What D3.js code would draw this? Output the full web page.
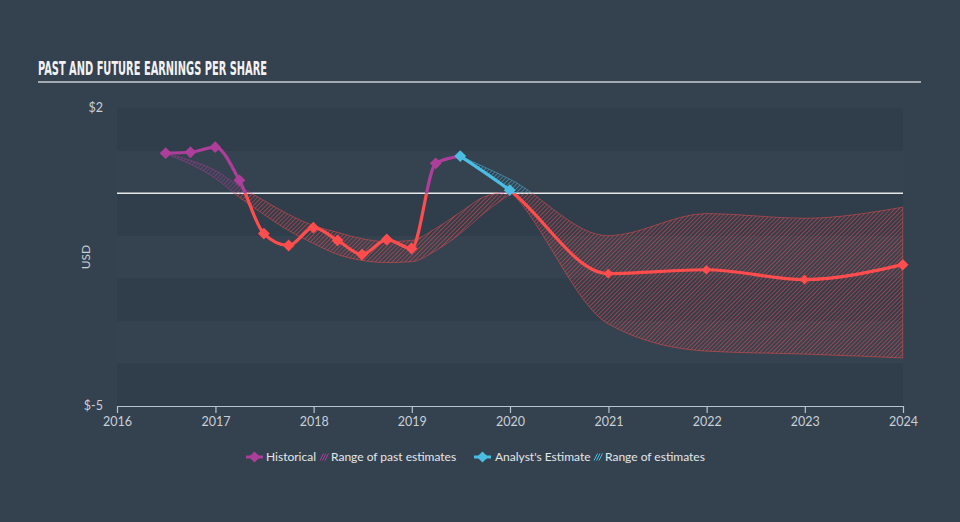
<!DOCTYPE html>
<html>
<head>
<meta charset="utf-8">
<script src="https://cdn.jsdelivr.net/npm/d3@7"></script>
<style>
  html, body { margin: 0; padding: 0; background: #34414f; }
  svg { display: block; }
</style>
</head>
<body>
<svg id="chart" width="960" height="522"></svg>
<script>
// ---------- DATA ----------
const titleText = "PAST AND FUTURE EARNINGS PER SHARE";
const yAxisLabel = "USD";
const yTickValues = [2, -5];
const yTickLabels = ["$2", "$-5"];
const xTickYears = [2016, 2017, 2018, 2019, 2020, 2021, 2022, 2023, 2024];

// Historical EPS (quarterly, trailing)
const histDates = ["2016-06-30","2016-09-30","2016-12-31","2017-03-31","2017-06-30","2017-09-30",
                   "2017-12-31","2018-03-31","2018-06-30","2018-09-30","2018-12-31","2019-03-31","2019-06-30"];
const histValues = [0.94, 0.96, 1.08, 0.30, -0.95, -1.23, -0.81, -1.11, -1.44, -1.09, -1.30, 0.70, 0.87];

// Range of past estimates
const pastRangeDates = ["2016-06-30","2016-09-30","2016-12-31","2017-03-31","2017-06-30","2017-09-30",
                        "2017-12-31","2018-03-31","2018-06-30","2018-09-30","2018-12-31","2019-03-31",
                        "2019-06-30","2019-09-30","2019-12-31"];
const pastRangeLow  = [0.92, 0.68, 0.35, -0.10, -0.50, -0.88, -1.18, -1.44, -1.58, -1.63, -1.61, -1.35, -0.95, -0.45, -0.03];
const pastRangeHigh = [0.94, 0.77, 0.54, 0.16, -0.17, -0.50, -0.76, -0.92, -1.07, -1.14, -1.11, -0.83, -0.45, -0.08, 0.03];

// Analyst estimates
const estDates = ["2019-06-30","2019-12-31","2020-12-31","2021-12-31","2022-12-31","2023-12-31"];
const estValues = [0.87, 0.07, -1.89, -1.80, -2.03, -1.68];
const estLow  = [0.87, 0.05, -3.07, -3.71, -3.78, -3.87];
const estHigh = [0.87, 0.33, -1.00, -0.48, -0.59, -0.33];

const legendLabels = ["Historical", "Range of past estimates", "Analyst's Estimate", "Range of estimates"];

// ---------- SETUP ----------
const COL_PURPLE = "#ad3e99";
const COL_RED = "#ff4d4d";
const COL_BLUE = "#4bbde3";
const parse = d3.utcParse("%Y-%m-%d");

const svg = d3.select("#chart");
const W = 960, H = 522;
const plot = { left: 117, right: 903, top: 108, bottom: 406 };

const x = d3.scaleUtc()
  .domain([new Date(Date.UTC(2016,0,1)), new Date(Date.UTC(2024,0,1))])
  .range([plot.left, plot.right]);
const y = d3.scaleLinear().domain([-5, 2]).range([plot.bottom, plot.top]);

const hist = histDates.map((d,i) => ({date: parse(d), v: histValues[i]}));
const pastRange = pastRangeDates.map((d,i) => ({date: parse(d), lo: pastRangeLow[i], hi: pastRangeHigh[i]}));
const est = estDates.map((d,i) => ({date: parse(d), v: estValues[i]}));
const estRange = estDates.map((d,i) => ({date: parse(d), lo: estLow[i], hi: estHigh[i]}));

// background
svg.append("rect").attr("width", W).attr("height", H).attr("fill", "#34414f");

const defs = svg.append("defs");
function hatch(id, color) {
  const p = defs.append("pattern").attr("id", id)
    .attr("patternUnits", "userSpaceOnUse").attr("width", 3).attr("height", 3)
    .attr("patternTransform", "rotate(45)");
  p.append("line").attr("x1", 0).attr("y1", 0).attr("x2", 0).attr("y2", 3)
    .attr("stroke", color).attr("stroke-width", 1.2).attr("stroke-opacity", 0.85);
}
hatch("hRed", COL_RED);
hatch("hPurple", COL_PURPLE);
hatch("hBlue", COL_BLUE);

const y0 = y(0);
defs.append("clipPath").attr("id", "clipAbove").append("rect")
  .attr("x", 0).attr("y", 0).attr("width", W).attr("height", y0);
defs.append("clipPath").attr("id", "clipBelow").append("rect")
  .attr("x", 0).attr("y", y0).attr("width", W).attr("height", H - y0);

// bands (one per unit)
const bandStarts = d3.range(-5, 2);
svg.append("g").selectAll("rect").data(bandStarts).join("rect")
  .attr("x", plot.left).attr("width", plot.right - plot.left)
  .attr("y", d => y(d + 1)).attr("height", d => y(d) - y(d + 1))
  .attr("fill", d => ((d % 2) + 2) % 2 === 1 ? "#303d4b" : "#35424f");

// Title
svg.append("text").attr("x", 38).attr("y", 75)
  .attr("font-family", "'Liberation Sans Narrow', 'DejaVu Sans Condensed', sans-serif")
  .attr("font-weight", "bold").attr("font-size", 19)
  .attr("fill", "#f2f2f2")
  .attr("textLength", 229).attr("lengthAdjust", "spacingAndGlyphs")
  .text(titleText);
svg.append("line").attr("x1", 38).attr("x2", 921).attr("y1", 82).attr("y2", 82)
  .attr("stroke", "#c8ccd0").attr("stroke-width", 1.6);

// Y labels
svg.append("g").selectAll("text").data(yTickValues).join("text")
  .attr("x", 103).attr("y", d => y(d)).attr("dy", "0.35em")
  .attr("text-anchor", "end").attr("font-family", "Lato, sans-serif").attr("font-size", 12.5)
  .attr("fill", "#c9d0d8")
  .text((d,i) => yTickLabels[i]);
svg.append("text").attr("transform", `translate(90,${(plot.top+plot.bottom)/2}) rotate(-90)`)
  .attr("text-anchor", "middle").attr("font-family", "Lato, sans-serif").attr("font-size", 12)
  .attr("fill", "#c9d0d8").text(yAxisLabel);

// X axis
const xAxis = d3.axisBottom(x)
  .tickValues(xTickYears.map(yr => new Date(Date.UTC(yr,0,1))))
  .tickFormat(d3.utcFormat("%Y")).tickSize(7).tickSizeOuter(0).tickPadding(4);
const gx = svg.append("g").attr("transform", `translate(0,${plot.bottom})`).call(xAxis);
gx.select(".domain").attr("stroke", "#b6c3d1").attr("stroke-width", 1.2);
gx.selectAll(".tick line").attr("stroke", "#b6c3d1").attr("stroke-width", 1.2);
gx.selectAll(".tick text").attr("fill", "#c9d0d8").attr("font-family", "Lato, sans-serif").attr("font-size", 12.5);

// Zero line
svg.append("line").attr("x1", plot.left).attr("x2", plot.right).attr("y1", y0).attr("y2", y0)
  .attr("stroke", "#e6e8ea").attr("stroke-width", 1.5);

// Areas & lines
const area = d3.area().curve(d3.curveMonotoneX)
  .x(d => x(d.date)).y0(d => y(d.lo)).y1(d => y(d.hi));
const line = d3.line().curve(d3.curveMonotoneX).x(d => x(d.date)).y(d => y(d.v));

function drawBand(data, colAbove, patAbove, colBelow, patBelow) {
  [["clipAbove", colAbove, patAbove], ["clipBelow", colBelow, patBelow]].forEach(([clip, col, pat]) => {
    svg.append("path").datum(data).attr("clip-path", `url(#${clip})`)
      .attr("d", area).attr("fill", `url(#${pat})`)
      .attr("stroke", col).attr("stroke-width", 0.8).attr("stroke-opacity", 0.6);
  });
}
drawBand(pastRange, COL_PURPLE, "hPurple", COL_RED, "hRed");
drawBand(estRange, COL_BLUE, "hBlue", COL_RED, "hRed");

function drawLine(data, colAbove, colBelow) {
  [["clipAbove", colAbove], ["clipBelow", colBelow]].forEach(([clip, col]) => {
    svg.append("path").datum(data).attr("clip-path", `url(#${clip})`)
      .attr("d", line).attr("fill", "none").attr("stroke", col).attr("stroke-width", 3.2)
      .attr("stroke-linejoin", "round");
  });
}
drawLine(hist, COL_PURPLE, COL_RED);
drawLine(est, COL_BLUE, COL_RED);

const diamond = d3.symbol().type(d3.symbolDiamond2);
function drawMarkers(data, colAbove, colBelow, size) {
  svg.append("g").selectAll("path").data(data).join("path")
    .attr("transform", d => `translate(${x(d.date)},${y(d.v)})`)
    .attr("d", diamond.size(size))
    .attr("fill", d => d.v >= 0 ? colAbove : colBelow);
}
drawMarkers(hist.slice(0, -1), COL_PURPLE, COL_RED, 90);
drawMarkers(est.slice(0, 2), COL_BLUE, COL_RED, 90);
drawMarkers(est.slice(2, -1), COL_BLUE, COL_RED, 60);
drawMarkers(est.slice(-1), COL_BLUE, COL_RED, 85);

// Legend
const lg = svg.append("g").attr("font-family", "Lato, sans-serif").attr("font-size", 12).attr("fill", "#e4e7ea");
const legendItems = [
  {type: "line", color: COL_PURPLE, x: 246, label: legendLabels[0], tx: 266},
  {type: "hatch", color: COL_PURPLE, x: 320, label: legendLabels[1], tx: 331},
  {type: "line", color: COL_BLUE, x: 474, label: legendLabels[2], tx: 495},
  {type: "hatch", color: COL_BLUE, x: 594, label: legendLabels[3], tx: 605}
];
const ly = 457;
legendItems.forEach(it => {
  if (it.type === "line") {
    lg.append("line").attr("x1", it.x).attr("x2", it.x + 17).attr("y1", ly).attr("y2", ly)
      .attr("stroke", it.color).attr("stroke-width", 3);
    lg.append("path").attr("transform", `translate(${it.x + 8.5},${ly})`)
      .attr("d", diamond.size(80)).attr("fill", it.color);
  } else {
    for (let k = 0; k < 3; k++) {
      lg.append("line").attr("x1", it.x + k*2.5).attr("y1", ly + 3.5).attr("x2", it.x + k*2.5 + 3.5).attr("y2", ly - 3.5)
        .attr("stroke", it.color).attr("stroke-width", 1);
    }
  }
  lg.append("text").attr("x", it.tx).attr("y", ly).attr("dy", "0.35em").text(it.label);
});
</script>
</body>
</html>
